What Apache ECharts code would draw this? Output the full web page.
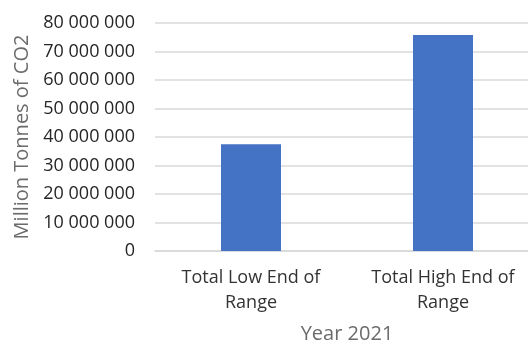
<!DOCTYPE html>
<html>
<head>
<meta charset="utf-8">
<script src="https://cdn.jsdelivr.net/npm/echarts@6/dist/echarts.min.js"></script>
<style>
  html, body { margin: 0; padding: 0; background: #fff; }
  #chart { width: 528px; height: 345px; }
</style>
</head>
<body>
<div id="chart"></div>
<script>
var categories = ['Total Low End of\nRange', 'Total High End of\nRange'];
var values = [37500000, 75800000];
var yTicks = [0, 10000000, 20000000, 30000000, 40000000, 50000000, 60000000, 70000000, 80000000];

function fmt(v) {
  return String(v).replace(/\B(?=(\d{3})+(?!\d))/g, ' ');
}

var chart = echarts.init(document.getElementById('chart'));
chart.setOption({
  animation: false,
  textStyle: { fontFamily: 'Open Sans' },
  grid: { left: 155, top: 23, width: 384, height: 228, containLabel: false, outerBoundsMode: 'none' },
  xAxis: {
    type: 'category',
    data: categories,
    name: 'Year 2021',
    nameLocation: 'middle',
    nameGap: 73,
    nameTextStyle: { color: '#6b6b6b', fontSize: 20 },
    axisLine: { lineStyle: { color: '#d9d9d9', width: 1.5 } },
    axisTick: { show: false },
    axisLabel: { color: '#333333', fontSize: 18, margin: 14, lineHeight: 25 }
  },
  yAxis: {
    type: 'value',
    min: yTicks[0],
    max: yTicks[yTicks.length - 1],
    interval: 10000000,
    name: 'Million Tonnes of CO2',
    nameLocation: 'middle',
    nameGap: 122,
    nameTextStyle: { color: '#6b6b6b', fontSize: 20 },
    axisLine: { show: false },
    axisTick: { show: false },
    splitLine: { lineStyle: { color: '#d9d9d9', width: 1.5 } },
    axisLabel: { color: '#262626', fontSize: 18, margin: 20, formatter: fmt }
  },
  series: [{
    type: 'bar',
    data: values,
    barWidth: 60,
    itemStyle: { color: '#4472C4' }
  }]
});
</script>
</body>
</html>
